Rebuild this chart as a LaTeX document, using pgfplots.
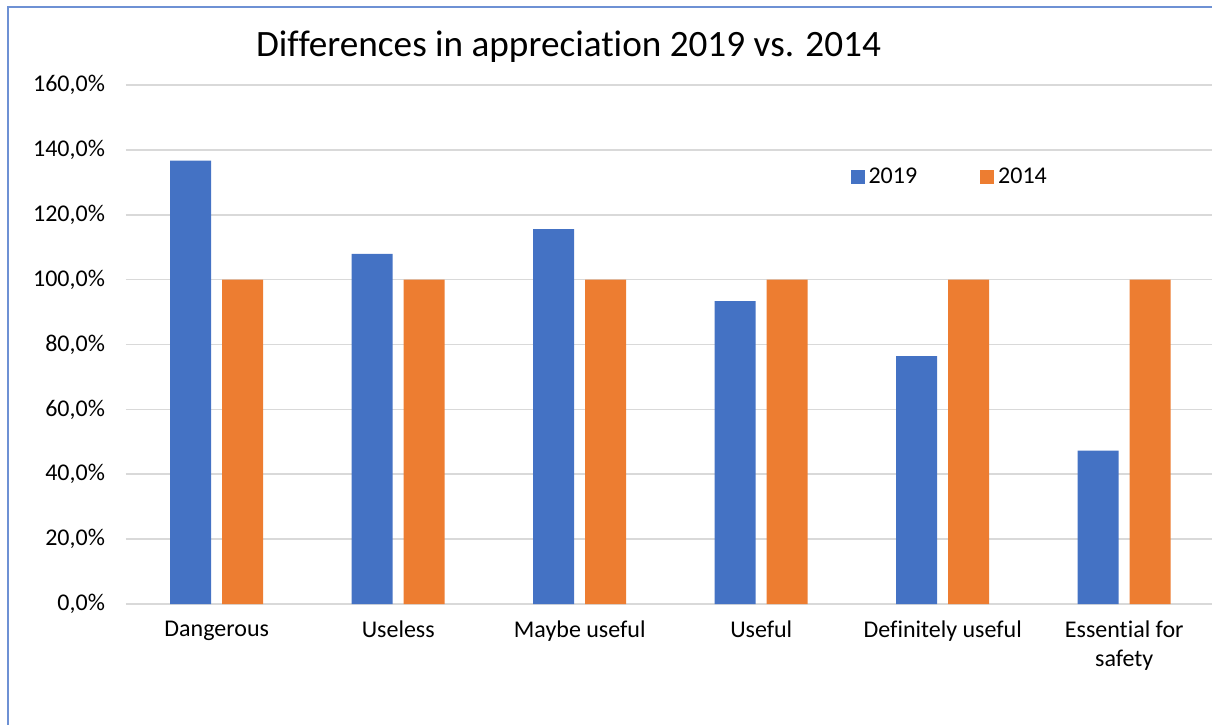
\documentclass[border=0pt]{standalone}
\usepackage{pgfplots}
\pgfplotsset{compat=1.18}
\usepackage{fontspec}
\setmainfont{Carlito}[Ligatures=NoCommon]
\definecolor{cblue}{HTML}{4472C4}
\definecolor{corange}{HTML}{ED7D31}
\definecolor{cgrid}{HTML}{D9D9D9}
\definecolor{cframe}{RGB}{110,145,212}
\begin{document}
\begin{tikzpicture}
\path[use as bounding box] (-63pt,-60pt) rectangle (543pt,302pt);
\draw[cframe, line width=0.8pt] (-59pt,-62pt) -- (-59pt,298.5pt) -- (545pt,298.5pt);
\begin{axis}[
  at={(0pt,0pt)}, anchor=south west,
  scale only axis, width=544.5pt, height=259.5pt,
  ybar=5.5pt, bar width=20.5pt,
  xmin=-0.5, xmax=5.5, ymin=0, ymax=160,
  axis line style={draw=none},
  xtick=data,
  xticklabels={Dangerous,Useless,Maybe useful,Useful,Definitely useful,{Essential for\\safety}},
  xticklabel style={align=center, font=\fontsize{12}{14.6}\selectfont, yshift=-5pt},
  ytick={0,20,...,160},
  yticklabels={{0,0\%},{20,0\%},{40,0\%},{60,0\%},{80,0\%},{100,0\%},{120,0\%},{140,0\%},{160,0\%}},
  yticklabel style={font=\fontsize{12}{14}\selectfont, xshift=-7pt},
  /pgf/number format/assume math mode=true,
  major tick length=0pt,
  ymajorgrids, grid style={cgrid, line width=0.8pt},
  extra y ticks={0}, extra y tick labels={}, extra y tick style={grid style={cgrid, line width=0.9pt}},
  legend columns=2,
  legend style={draw=none, fill=none, at={(rel axis cs:0.665,0.823)}, anchor=west,
    font=\fontsize{12}{14}\selectfont, inner sep=0pt,
    /tikz/every even column/.append style={column sep=29.5pt}},
  legend image code/.code={\fill[#1] (0pt,-3.5pt) rectangle (7pt,3.5pt);},
]
\addplot[fill=cblue, draw=none] coordinates {(0,136.7) (1,107.9) (2,115.6) (3,93.4) (4,76.4) (5,47.3)};
\addplot[fill=corange, draw=none] coordinates {(0,100) (1,100) (2,100) (3,100) (4,100) (5,100)};
\legend{2019,2014}
\end{axis}
\node[anchor=base, font=\fontsize{18.6}{22}\selectfont] at (221.25pt,273.5pt) {Differences in appreciation 2019 vs. 2014};
\end{tikzpicture}
\end{document}
